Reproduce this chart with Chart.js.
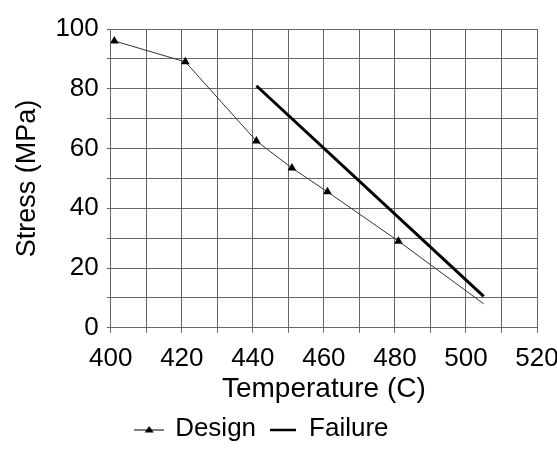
<!DOCTYPE html>
<html>
<head>
<meta charset="utf-8">
<script src="https://cdn.jsdelivr.net/npm/chart.js@4/dist/chart.umd.min.js"></script>
<style>
  html, body { margin: 0; padding: 0; background: #fff; }
  #wrap { width: 557px; height: 468px; }
</style>
</head>
<body>
<div id="wrap"><canvas id="chart"></canvas></div>
<script>
// values
const designTemp = [401, 421, 441, 451, 461, 481, 505]
const designStress = [96, 89, 62.5, 53.5, 45.5, 29, 8]
const failureTemp = [441, 505]
const failureStress = [81, 10.5]

const xTicks = [400, 420, 440, 460, 480, 500, 520]
const yTicks = [0, 20, 40, 60, 80, 100]

const FONT = "'Liberation Sans', Arial, sans-serif"

function pairs(xs, ys) {
    return xs.map((x, i) => ({ x: x, y: ys[i] }))
}

// grid every 10, labels only on the listed ticks
function gridEvery10(min, max) {
    let out = []
    for (let v = min; v <= max; v += 10) out.push({ value: v })
    return out
}

// small legend swatches
function swatch(kind) {
    let c = document.createElement('canvas')
    c.width = 30
    c.height = 12
    let g = c.getContext('2d')
    g.strokeStyle = '#000'
    if (kind === 'design') {
        g.lineWidth = 1
        g.beginPath(); g.moveTo(0, 7); g.lineTo(30, 7); g.stroke()
        g.fillStyle = '#000'
        g.beginPath(); g.moveTo(15, 3); g.lineTo(19.5, 9.5); g.lineTo(10.5, 9.5); g.closePath(); g.fill()
    } else {
        g.lineWidth = 2.5
        g.beginPath(); g.moveTo(2, 7); g.lineTo(28, 7); g.stroke()
    }
    return c
}

const designSwatch = swatch('design')
const failureSwatch = swatch('failure')

new Chart(document.getElementById('chart'), {
    type: 'scatter',
    data: {
        datasets: [
            {
                label: 'Design',
                data: pairs(designTemp, designStress),
                showLine: true,
                borderColor: '#333',
                borderWidth: 1,
                backgroundColor: '#000',
                pointStyle: 'triangle',
                pointRadius: designTemp.map((t, i) => i === designTemp.length - 1 ? 0 : 5),
                pointBorderWidth: 0
            },
            {
                label: 'Failure',
                data: pairs(failureTemp, failureStress),
                showLine: true,
                borderColor: '#000',
                borderWidth: 3,
                pointRadius: 0
            }
        ]
    },
    options: {
        responsive: true,
        maintainAspectRatio: false,
        animation: false,
        layout: { padding: { left: 11, right: 0, top: 29, bottom: 16 } },
        plugins: {
            tooltip: { enabled: false },
            legend: {
                position: 'bottom',
                labels: {
                    usePointStyle: true,
                    color: '#000',
                    padding: 14,
                    font: { family: FONT, size: 26 },
                    generateLabels: (chart) => chart.data.datasets.map((ds, i) => ({
                        // trailing spaces nudge the centred legend left, as in the scan
                        text: i === 1 ? ds.label + '      ' : ds.label,
                        pointStyle: i === 0 ? designSwatch : failureSwatch,
                        fontColor: '#000',
                        strokeStyle: '#000',
                        fillStyle: '#000',
                        lineWidth: 0,
                        datasetIndex: i
                    }))
                }
            }
        },
        scales: {
            x: {
                type: 'linear',
                min: 400,
                max: 520,
                afterBuildTicks: (axis) => { axis.ticks = gridEvery10(400, 520) },
                afterFit: (axis) => { axis.paddingRight = 20 },
                title: {
                    display: true,
                    text: 'Temperature (C)',
                    color: '#000',
                    font: { family: FONT, size: 28, lineHeight: 1.0 },
                    padding: { top: -9, bottom: -1 }
                },
                ticks: {
                    autoSkip: false,
                    color: '#000',
                    padding: 10,
                    maxRotation: 0,
                    font: { family: FONT, size: 26 },
                    callback: (v) => xTicks.includes(v) ? String(v) : ''
                },
                grid: { color: '#666', lineWidth: 1, tickLength: 5 },
                border: { color: '#666' }
            },
            y: {
                min: 0,
                max: 100,
                afterBuildTicks: (axis) => { axis.ticks = gridEvery10(0, 100) },
                title: {
                    display: true,
                    text: 'Stress (MPa)',
                    color: '#000',
                    font: { family: FONT, size: 27 },
                    padding: { top: 0, bottom: 4 }
                },
                ticks: {
                    autoSkip: false,
                    color: '#000',
                    padding: 8,
                    font: { family: FONT, size: 26 },
                    callback: (v) => yTicks.includes(v) ? String(v) : ''
                },
                grid: { color: '#666', lineWidth: 1, tickLength: 4 },
                border: { color: '#666' }
            }
        }
    }
})
</script>
</body>
</html>
